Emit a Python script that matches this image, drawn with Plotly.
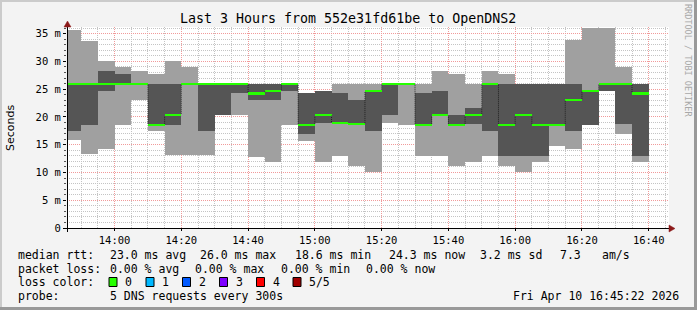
import plotly.graph_objects as go
import pandas as pd

# ---------------- data ----------------
start_time = "2026-04-10 13:45"
step_minutes = 5
# five sorted pings per 5-minute step (ms): p_min, p_2, median, p_4, p_max
p_min = [15.8, 13.4, 14.3, 18.6, 23.1, 17.4, 13.1, 13.1, 13.1, 20.4,
         20.4, 12.7, 11.8, 18.6, 15.75, 11.8, 13.05, 11.25, 10.0, 18.9,
         18.6, 13.05, 13.05, 11.25, 11.8, 13.05, 11.25, 10.0, 11.8, 14.7,
         14.3, 18.6, 24.75, 17.0, 11.8]
p_2 = [17.4, 18.6, 24.7, 26.0, 26.0, 18.6, 18.6, 26.0, 17.4, 20.4,
       24.3, 23.1, 23.1, 24.75, 16.95, 19.0, 18.75, 18.7, 17.4, 20.4,
       26.0, 18.6, 20.4, 18.6, 18.75, 17.4, 13.05, 13.05, 13.05, 18.6,
       17.4, 18.6, 24.75, 18.75, 13.05]
p_med = [26.0, 26.0, 26.0, 26.0, 26.0, 18.6, 20.4, 26.0, 26.0, 26.0,
         26.0, 24.3, 24.75, 26.0, 18.6, 20.4, 18.9, 18.7, 24.75, 26.0,
         26.0, 18.6, 20.4, 18.6, 20.4, 26.0, 18.6, 20.4, 18.6, 18.6,
         23.1, 24.75, 26.0, 26.0, 24.3]
p_4 = [26.0, 26.0, 28.3, 27.7, 26.0, 26.0, 26.0, 26.0, 26.0, 26.0,
       26.0, 26.0, 26.0, 26.0, 24.3, 24.75, 24.3, 23.1, 24.75, 26.0,
       26.0, 24.3, 24.75, 20.4, 21.6, 26.0, 26.0, 26.0, 26.0, 26.0,
       26.0, 24.75, 26.0, 26.0, 26.0]
p_max = [35.7, 33.6, 30.0, 29.0, 28.3, 27.7, 30.0, 29.0, 26.0, 26.0,
         26.0, 26.0, 26.0, 26.0, 24.3, 24.75, 26.0, 26.0, 26.0, 26.0,
         26.0, 26.0, 28.3, 27.75, 26.0, 28.3, 27.75, 26.0, 26.0, 26.0,
         33.9, 36.0, 36.0, 29.0, 26.0]

y_tick_vals = [0, 5, 10, 15, 20, 25, 30, 35]
y_tick_text = ["0", "5 m", "10 m", "15 m", "20 m", "25 m", "30 m", "35 m"]

title_text = "Last 3 Hours from 552e31fd61be to OpenDNS2"
y_title = "Seconds"
stats_rtt = [("median rtt:", 16), ("23.0 ms avg", 107.5), ("26.0 ms max", 198),
             ("18.6 ms min", 293), ("24.3 ms now", 386.5), ("3.2 ms sd", 477.5),
             ("7.3", 557.5), ("am/s", 600)]
stats_loss = [("packet loss:", 16), ("0.00 % avg", 107.5), ("0.00 % max", 193.3),
              ("0.00 % min", 278.7), ("0.00 % now", 364.4)]
loss_labels = ["0", "1", "2", "3", "4", "5/5"]
loss_colors = ["#26ff00", "#00b8ff", "#0059ff", "#7e00ff", "#ff0000", "#a10000"]
probe_text = "5 DNS requests every 300s"
date_text = "Fri Apr 10 16:45:22 2026"
credit_text = "RRDTOOL / TOBI OETIKER"

# ---------------- geometry ----------------
W, H = 697, 310
ML, MR, MT, MB = 67, 28, 27, 82
PW = W - ML - MR
PH = H - MT - MB


def px(x):
    return (x - ML) / PW


def py(y):
    return (H - MB - y) / PH


n = len(p_med)
starts = pd.date_range(start_time, periods=n, freq=f"{step_minutes}min")
mids = starts + pd.Timedelta(minutes=step_minutes / 2)
width_ms = step_minutes * 60 * 1000

LIGHT = "#a0a0a0"
DARK = "#555555"
MONO = "DejaVu Sans Mono"

fig = go.Figure()

fig.add_trace(go.Bar(x=mids, y=[b - a for a, b in zip(p_min, p_max)], base=p_min,
                     width=width_ms, marker=dict(color=LIGHT, line=dict(width=0)),
                     hoverinfo="skip"))
fig.add_trace(go.Bar(x=mids, y=[b - a for a, b in zip(p_2, p_4)], base=p_2,
                     width=width_ms, marker=dict(color=DARK, line=dict(width=0)),
                     hoverinfo="skip"))
thick = 0.36
fig.add_trace(go.Bar(x=mids, y=[thick] * n, base=[m - thick / 2 for m in p_med],
                     width=width_ms, marker=dict(color=loss_colors[0], line=dict(width=0)),
                     hoverinfo="skip"))
# dotted vertical connectors between consecutive medians
vx, vy = [], []
for i in range(1, n):
    if abs(p_med[i] - p_med[i - 1]) > 0.3:
        lo, hi = sorted([p_med[i - 1], p_med[i]])
        vx += [starts[i], starts[i], None]
        vy += [lo + thick / 2, hi - thick / 2, None]
fig.add_trace(go.Scatter(x=vx, y=vy, mode="lines", connectgaps=False,
                         line=dict(color="rgba(20,20,20,0.8)", width=1, dash="1px,1px"),
                         hoverinfo="skip"))

fig.update_layout(
    width=W, height=H,
    margin=dict(l=ML, r=MR, t=MT, b=MB, pad=0),
    paper_bgcolor="#f3f3f3", plot_bgcolor="#ffffff",
    barmode="overlay", bargap=0, showlegend=False,
    font=dict(family=MONO, size=10.5, color="#000000"),
)

fig.update_xaxes(
    type="date",
    range=["2026-04-10 13:45:45", "2026-04-10 16:46:05"],
    tick0="2026-04-10 14:00", dtick=20 * 60 * 1000, tickformat="%H:%M",
    showgrid=True, gridcolor="#f19a9a", griddash="1px,1px", gridwidth=1,
    ticks="outside", ticklen=2, tickcolor="#000000",
    tickfont=dict(family=MONO, size=10.5, color="#000000"),
    minor=dict(dtick=5 * 60 * 1000, showgrid=True, gridcolor="#c4c4c4",
               griddash="1px,1px", ticks=""),
    showline=False, zeroline=False, fixedrange=True,
)
fig.update_yaxes(
    range=[0, 36.2],
    tickvals=y_tick_vals, ticktext=y_tick_text,
    showgrid=True, gridcolor="#f19a9a", griddash="1px,1px", gridwidth=1,
    ticks="outside", ticklen=3, tickcolor="#000000",
    tickfont=dict(family=MONO, size=10.5, color="#000000"),
    minor=dict(dtick=1, showgrid=True, gridcolor="#c4c4c4", griddash="1px,1px",
               ticks="outside", ticklen=2, tickcolor="#555555"),
    showline=False, zeroline=False, fixedrange=True,
)

shapes = []
# 3D border
shapes.append(dict(type="rect", xref="paper", yref="paper", x0=px(0), x1=px(697), y0=py(0), y1=py(2),
                   fillcolor="#cbcbcb", line=dict(width=0), layer="above"))
shapes.append(dict(type="rect", xref="paper", yref="paper", x0=px(0), x1=px(2), y0=py(0), y1=py(310),
                   fillcolor="#cbcbcb", line=dict(width=0), layer="above"))
shapes.append(dict(type="rect", xref="paper", yref="paper", x0=px(694), x1=px(697), y0=py(0), y1=py(310),
                   fillcolor="#999999", line=dict(width=0), layer="above"))
shapes.append(dict(type="rect", xref="paper", yref="paper", x0=px(0), x1=px(697), y0=py(307), y1=py(310),
                   fillcolor="#999999", line=dict(width=0), layer="above"))
# axis lines
shapes.append(dict(type="line", xref="paper", yref="paper", x0=px(63), x1=px(671), y0=py(228.5), y1=py(228.5),
                   line=dict(color="#000000", width=1), layer="above"))
shapes.append(dict(type="line", xref="paper", yref="paper", x0=px(67.5), x1=px(67.5), y0=py(232), y1=py(24),
                   line=dict(color="#000000", width=1), layer="above"))
# arrow heads
shapes.append(dict(type="path", xref="paper", yref="paper",
                   path=f"M {px(669)} {py(225)} L {px(675)} {py(228.5)} L {px(669)} {py(232)} Z",
                   fillcolor="#8c1a1a", line=dict(color="#8c1a1a", width=0.5), layer="above"))
shapes.append(dict(type="path", xref="paper", yref="paper",
                   path=f"M {px(64)} {py(27)} L {px(67.5)} {py(21)} L {px(71)} {py(27)} Z",
                   fillcolor="#8c1a1a", line=dict(color="#8c1a1a", width=0.5), layer="above"))

annotations = []


def txt(s, x, y, size=11.5, xanchor="left", color="#000000", family=MONO, angle=0):
    annotations.append(dict(text=s, x=px(x), y=py(y), xref="paper", yref="paper",
                            xanchor=xanchor, yanchor="middle", showarrow=False,
                            textangle=angle,
                            font=dict(family=family, size=size, color=color)))


txt(title_text, 348, 18, size=13.3, xanchor="center")
txt(y_title, 10, 128, size=11, xanchor="center", family="DejaVu Sans", angle=-90)
txt(credit_text, 688, 60, size=8.5, xanchor="center", color="#a8a8a8", angle=90)

for s, x in stats_rtt:
    txt(s, x, 255)
for s, x in stats_loss:
    txt(s, x, 268.5)
txt("loss color:", 16, 282)
box_x = [109, 146, 182.5, 219.5, 256.5, 293]
for lab, col, bx in zip(loss_labels, loss_colors, box_x):
    shapes.append(dict(type="rect", xref="paper", yref="paper", x0=px(bx), x1=px(bx + 8),
                       y0=py(286.5), y1=py(277.5), fillcolor=col,
                       line=dict(color="#000000", width=1), layer="above"))
    txt(lab, bx + 14, 282)
txt("probe:", 16, 296)
txt(probe_text, 107.5, 296)
txt(date_text, 681, 296, xanchor="right")

fig.update_layout(shapes=shapes, annotations=annotations)

fig.write_html("out.html")
